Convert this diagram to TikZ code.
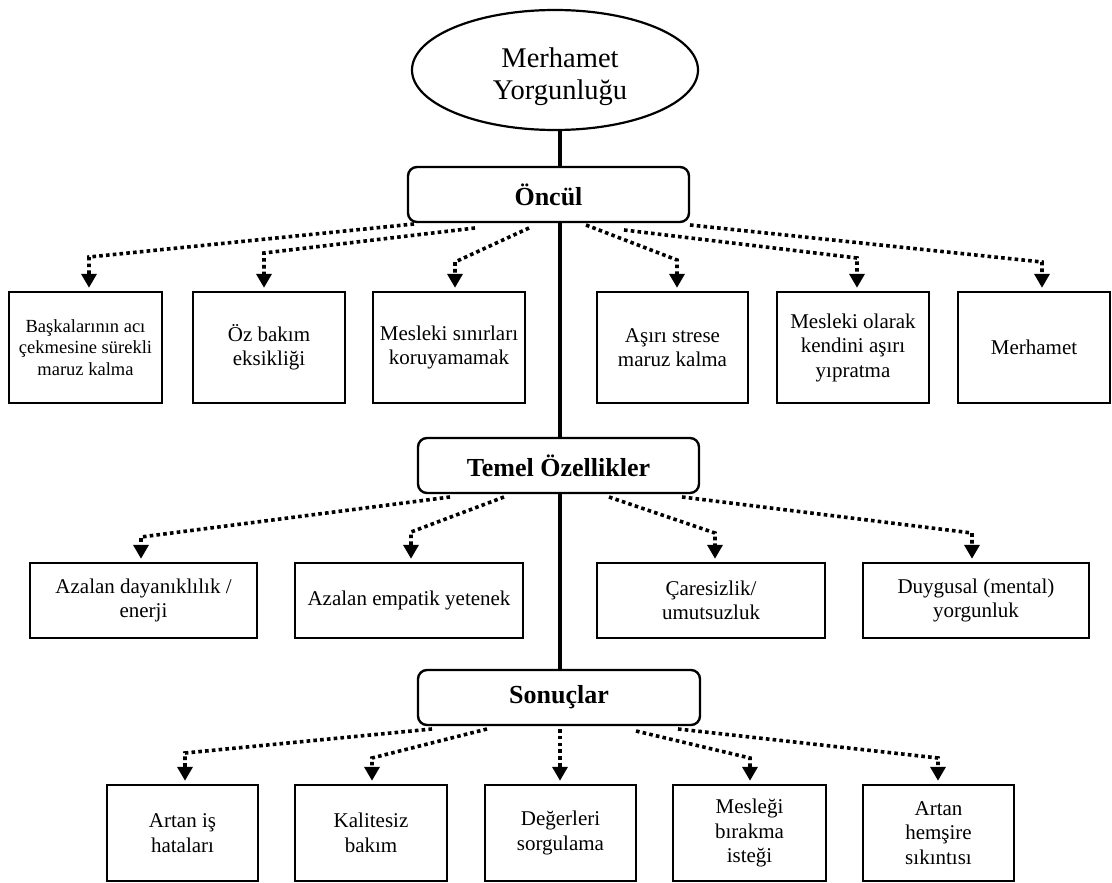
\documentclass[tikz,border=0pt]{standalone}
\usepackage{fontspec}
\setmainfont{Liberation Serif}
\usetikzlibrary{arrows.meta,shapes.geometric}
\begin{document}
\begin{tikzpicture}[x=1pt,y=-1pt,
  box/.style={draw, line width=2.4pt, align=center, inner sep=2pt, font=\fontsize{21}{24.5}\selectfont},
  topbox/.style={box, minimum width=152pt, minimum height=111pt},
  midbox/.style={box, minimum width=227pt, minimum height=75pt},
  botbox/.style={box, minimum width=151pt, minimum height=96pt},
  head/.style={draw, line width=2.4pt, rounded corners=9pt, font=\fontsize{26}{30}\selectfont\bfseries, minimum width=281pt, minimum height=55pt, inner sep=0pt},
  spine/.style={line width=3.4pt},
  dotarrow/.style={line width=3.6pt, dash pattern=on 3.6pt off 3.2pt, -{Triangle[width=15pt,length=14pt]}, shorten >=3pt}
]
\useasboundingbox (0,0) rectangle (1112,883);

% top ellipse
\node[draw, ellipse, line width=2.2pt, minimum width=286pt, minimum height=120pt, inner sep=0pt] (ell) at (555,70) {};
\node[align=center, inner sep=0pt, font=\fontsize{28.5}{32}\selectfont] (elltxt) at (560,77) {Merhamet\\Yorgunluğu};

% headers
\node[head] (oncul) at (548.5,194.5) {Öncül};
\node[head] (temel) at (558.5,465.5) {Temel Özellikler};
\node[head, minimum width=282pt] (sonuc) at (559,697.5) {Sonuçlar};

% spine
\coordinate (sx) at (560,0);
\draw[spine] (ell.south -| sx) -- (oncul.north -| sx);
\draw[spine] (oncul.south -| sx) -- (temel.north -| sx);
\draw[spine] (temel.south -| sx) -- (sonuc.north -| sx);

% top row
\node[topbox, minimum width=153pt, font=\fontsize{18.5}{21.5}\selectfont] (b1) at (85.5,347.5) {Başkalarının acı\\çekmesine sürekli\\maruz kalma};
\node[topbox] (b2) at (269,347.5) {Öz bakım\\eksikliği};
\node[topbox] (b3) at (449,347.5) {Mesleki sınırları\\koruyamamak};
\node[topbox, minimum width=151pt] (b4) at (672.5,347.5) {Aşırı strese\\maruz kalma};
\node[topbox] (b5) at (853,347.5) {Mesleki olarak\\kendini aşırı\\yıpratma};
\node[topbox] (b6) at (1034,347.5) {Merhamet};

% middle row
\node[midbox] (mA) at (143.5,600.5) {Azalan dayanıklılık /\\enerji};
\node[midbox, minimum width=228pt] (mB) at (409,600.5) {Azalan empatik yetenek};
\node[midbox, minimum width=228pt] (mC) at (711,600.5) {Çaresizlik/\\umutsuzluk};
\node[midbox, minimum width=226pt] (mD) at (976,600.5) {Duygusal (mental)\\yorgunluk};

% bottom row
\node[botbox] (ba) at (182.5,833) {Artan iş\\hataları};
\node[botbox, minimum width=152pt] (bb) at (371,833) {Kalitesiz\\bakım};
\node[botbox] (bc) at (560.5,833) {Değerleri\\sorgulama};
\node[botbox, minimum width=153pt] (bd) at (749.5,833) {Mesleği\\bırakma\\isteği};
\node[botbox] (be) at (938.5,833) {Artan\\hemşire\\sıkıntısı};

% arrows from Öncül
\coordinate (s1) at (414,224);  \coordinate (k1) at (89,257);
\coordinate (s2) at (475,228);  \coordinate (k2) at (264,253);
\coordinate (s3) at (529,228);  \coordinate (k3) at (455,262);
\coordinate (s4) at (586,225);  \coordinate (k4) at (677,260);
\coordinate (s5) at (624,230);  \coordinate (k5) at (857,258);
\coordinate (s6) at (690,225);  \coordinate (k6) at (1042,262);
\draw[dotarrow] (s1) -- (k1) -- (k1 |- b1.north);
\draw[dotarrow] (s2) -- (k2) -- (k2 |- b2.north);
\draw[dotarrow] (s3) -- (k3) -- (k3 |- b3.north);
\draw[dotarrow] (s4) -- (k4) -- (k4 |- b4.north);
\draw[dotarrow] (s5) -- (k5) -- (k5 |- b5.north);
\draw[dotarrow] (s6) -- (k6) -- (k6 |- b6.north);

% arrows from Temel Özellikler
\coordinate (t1) at (450,497);  \coordinate (j1) at (141,537);
\coordinate (t2) at (504,497);  \coordinate (j2) at (411,532);
\coordinate (t3) at (609,497);  \coordinate (j3) at (715,533);
\coordinate (t4) at (682,497);  \coordinate (j4) at (972,533);
\draw[dotarrow] (t1) -- (j1) -- (j1 |- mA.north);
\draw[dotarrow] (t2) -- (j2) -- (j2 |- mB.north);
\draw[dotarrow] (t3) -- (j3) -- (j3 |- mC.north);
\draw[dotarrow] (t4) -- (j4) -- (j4 |- mD.north);

% arrows from Sonuçlar
\coordinate (u1) at (432,729);  \coordinate (h1) at (185,753);
\coordinate (u2) at (487,729);  \coordinate (h2) at (372,758);
\coordinate (u3) at (560,729);
\coordinate (u4) at (636,731);  \coordinate (h4) at (750,758);
\coordinate (u5) at (678,729);  \coordinate (h5) at (938,758);
\draw[dotarrow] (u1) -- (h1) -- (h1 |- ba.north);
\draw[dotarrow] (u2) -- (h2) -- (h2 |- bb.north);
\draw[dotarrow] (u3) -- (u3 |- bc.north);
\draw[dotarrow] (u4) -- (h4) -- (h4 |- bd.north);
\draw[dotarrow] (u5) -- (h5) -- (h5 |- be.north);
\end{tikzpicture}
\end{document}
